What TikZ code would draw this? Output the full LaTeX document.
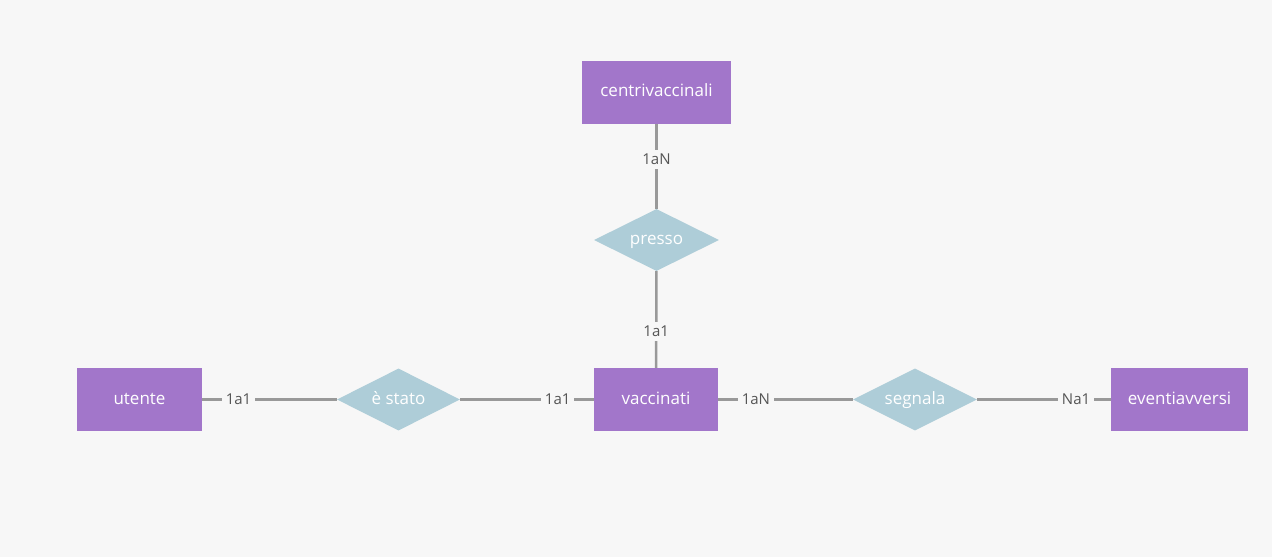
\documentclass[tikz,border=0pt]{standalone}
\usepackage{fontspec}
\setmainfont{Open Sans}
\usetikzlibrary{shapes.geometric}
\definecolor{bg}{HTML}{F7F7F7}
\definecolor{ent}{HTML}{A276CA}
\definecolor{rel}{HTML}{AECDD8}
\definecolor{lnk}{HTML}{999999}
\definecolor{lbl}{HTML}{555555}
\tikzset{
  entity/.style={draw=none, fill=ent, minimum height=63pt, inner sep=0pt, text=white, text height=12pt, text depth=3pt, font=\fontsize{17}{20}\selectfont},
  relation/.style={diamond, draw=none, fill=rel, minimum width=125pt, minimum height=62pt, inner sep=0pt, aspect=2, text=white, text height=12pt, text depth=3pt, font=\fontsize{17}{20}\selectfont},
  link/.style={draw=lnk, line width=2.5pt},
  card/.style={fill=bg, text=lbl, inner sep=4pt, font=\fontsize{15}{18}\selectfont}
}
\begin{document}
\begin{tikzpicture}[x=1pt,y=-1pt]
\fill[bg] (0,0) rectangle (1272,557);
\useasboundingbox (0,0) rectangle (1272,557);
\node[entity, minimum width=149pt] (centri) at (656.5,92) {centrivaccinali};
\node[relation] (presso) at (656.5,240) {presso};
\node[entity, minimum width=124pt] (vacc) at (656,399.5) {vaccinati};
\node[entity, minimum width=125pt] (utente) at (139.5,399.5) {utente};
\node[relation, minimum width=123pt] (stato) at (398.5,399.5) {è stato};
\node[relation, minimum width=124pt] (segn) at (915,399.5) {segnala};
\node[entity, minimum width=137pt] (eventi) at (1179.5,399.5) {eventiavversi};
\draw[link] (centri) -- node[card, pos=0.42] {1aN} (presso);
\draw[link] (presso) -- node[card, pos=0.62] {1a1} (vacc);
\draw[link] (utente) -- node[card, pos=0.27] {1a1} (stato);
\draw[link] (stato) -- node[card, pos=0.73] {1a1} (vacc);
\draw[link] (vacc) -- node[card, pos=0.28] {1aN} (segn);
\draw[link] (segn) -- node[card, pos=0.74] {Na1} (eventi);
\end{tikzpicture}
\end{document}
